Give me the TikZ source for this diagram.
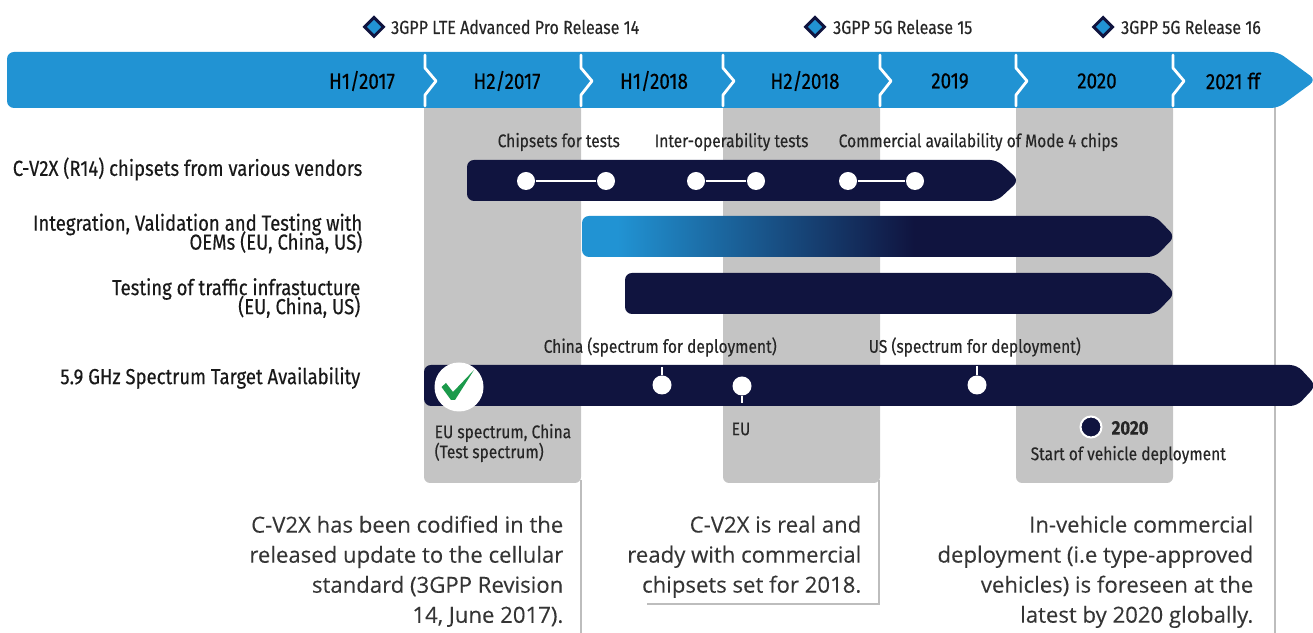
\documentclass[tikz,border=0pt]{standalone}
\usepackage{fontspec}
\usepackage{tkz-euclide}
\usetikzlibrary{positioning,shapes.geometric}
\newfontfamily\labelfont[FakeStretch=0.85,FakeBold=0.35]{Fira Sans}
\newfontfamily\notefont[FakeBold=0.15]{Open Sans}
\newcommand{\tightrows}{\lineskiplimit=-3pt\relax}
\definecolor{barblue}{HTML}{2193D3}
\definecolor{barnavy}{HTML}{10143F}
\definecolor{bandgrey}{HTML}{C4C4C4}
\definecolor{linegrey}{HTML}{BDBDBD}
\definecolor{notegrey}{HTML}{353535}
\definecolor{tickgreen}{HTML}{1B9A4B}
\pgfdeclarehorizontalshading{fadebar}{100bp}{color(0bp)=(barblue);color(28bp)=(barblue);color(53bp)=(barnavy);color(100bp)=(barnavy)}
\tikzset{
    band/.style={fill=bandgrey,rounded corners=0.06cm},
    rule/.style={draw=linegrey,line width=0.02cm},
    navybar/.style={fill=barnavy,rounded corners=0.07cm},
    chevron/.style={draw=white,line width=0.028cm,line cap=round,line join=round},
    spot/.style={circle,fill=white,inner sep=0pt,minimum size=0.18cm},
    link/.style={draw=white,line width=0.014cm},
    period/.style={font=\labelfont\fontsize{6.3}{7}\selectfont,text=black,inner sep=0pt},
    toptext/.style={font=\labelfont\fontsize{5.38}{6}\selectfont,text=black!85,inner sep=0pt,anchor=west},
    rowtext/.style={font=\labelfont\fontsize{6.2}{5.4}\selectfont\tightrows,text=black!90,inner sep=0pt,align=right,anchor=east},
    smalltext/.style={font=\labelfont\fontsize{5.2}{5.7}\selectfont,text=black!85,inner sep=0pt,anchor=west,align=left},
    notetext/.style={font=\notefont\fontsize{6.3}{8.55}\selectfont,text=notegrey,inner sep=0pt,align=right,anchor=north east},
    release/.style={diamond,draw=barnavy,fill=barblue,line width=0.03cm,inner sep=0pt,minimum size=0.2cm}
}
\begin{document}
\begin{tikzpicture}
                \useasboundingbox (0,0) rectangle (13.13,-6.33);
                \tkzDefPoints{5.26/-1.81/a,6.06/-1.81/b,6.96/-1.81/c,7.56/-1.81/d,8.48/-1.81/e,9.15/-1.81/f}
                \tkzDefPoints{6.62/-3.85/g,7.42/-3.86/h,9.77/-3.85/i,6.62/-3.67/j,7.42/-4.03/k,9.77/-3.66/l}
                \tkzDefPoints{3.74/-0.27/m,8.15/-0.27/n,11.03/-0.27/o}
                \fill[band] (4.24,-0.9) rectangle (5.81,-4.83);
                \fill[band] (7.23,-0.9) rectangle (8.80,-4.83);
                \fill[band] (10.16,-0.9) rectangle (11.73,-4.83);
                \draw[rule] (5.805,-4.80) -- (5.805,-6.33);
                \draw[rule] (6.47,-6.04) -- (8.785,-6.04) -- (8.785,-4.80);
                \draw[rule] (12.745,-1.0) -- (12.745,-6.33);
                \fill[fill=barblue,rounded corners=0.07cm] (0.07,-0.52) -- (12.78,-0.52) -- (13.16,-0.80) -- (12.78,-1.08) -- (0.07,-1.08) -- cycle;
                \foreach \x in {4.25,5.81,7.23,8.80,10.16,11.73}
                    \draw[chevron] (\x,-0.55) -- (\x,-0.68) -- (\x+0.11,-0.81) -- (\x,-0.95) -- (\x,-1.06);
                \node[period] (pa) at (3.62,-0.81) {H1/2017};
                \node[period] (pb) at (5.07,-0.81) {H2/2017};
                \node[period] (pc) at (6.54,-0.81) {H1/2018};
                \node[period] (pd) at (8.05,-0.81) {H2/2018};
                \node[period] (pe) at (9.50,-0.81) {2019};
                \node[period] (pf) at (10.97,-0.81) {2020};
                \node[period] (pg) at (12.33,-0.81) {2021 ff};
                \node[release] (ra) at (m) {};
                \node[release] (rb) at (n) {};
                \node[release] (rc) at (o) {};
                \node[toptext,right=0.05cm of ra] (ta) {3GPP LTE Advanced Pro Release 14};
                \node[toptext,right=0.06cm of rb] (tb) {3GPP 5G Release 15};
                \node[toptext,right=0.06cm of rc] (tc) {3GPP 5G Release 16};
                \fill[navybar] (4.67,-1.60) -- (9.97,-1.60) -- (10.19,-1.805) -- (9.97,-2.01) -- (4.67,-2.01) -- cycle;
                \shade[shading=fadebar,rounded corners=0.07cm] (5.82,-2.16) -- (11.55,-2.16) -- (11.75,-2.365) -- (11.55,-2.57) -- (5.82,-2.57) -- cycle;
                \fill[navybar] (6.25,-2.73) -- (11.55,-2.73) -- (11.75,-2.935) -- (11.55,-3.14) -- (6.25,-3.14) -- cycle;
                \fill[navybar] (4.24,-3.65) -- (12.97,-3.65) -- (13.16,-3.855) -- (12.97,-4.06) -- (4.24,-4.06) -- cycle;
                \node[spot] (da) at (a) {};
                \node[spot] (db) at (b) {};
                \node[spot] (dc) at (c) {};
                \node[spot] (dd) at (d) {};
                \node[spot] (de) at (e) {};
                \node[spot] (df) at (f) {};
                \draw[link] (da) -- (db);
                \draw[link] (dc) -- (dd);
                \draw[link] (de) -- (df);
                \node[spot,minimum size=0.19cm] (dg) at (g) {};
                \node[spot,minimum size=0.19cm] (dh) at (h) {};
                \node[spot,minimum size=0.19cm] (di) at (i) {};
                \draw[link] (dg) -- (j);
                \draw[link] (dh) -- (k);
                \draw[link] (di) -- (l);
                \node[circle,fill=white,inner sep=0pt,minimum size=0.49cm] (ok) at (4.59,-3.87) {};
                \fill[tickgreen] (4.415,-3.87) -- (4.46,-3.83) -- (4.53,-3.92) -- (4.74,-3.70) -- (4.55,-4.00) -- (4.51,-4.00) -- cycle;
                \node[circle,fill=barnavy,draw=white,line width=0.02cm,inner sep=0pt,minimum size=0.21cm] (year) at (10.91,-4.27) {};
                \node[smalltext,font=\labelfont\bfseries\fontsize{5.6}{5.7}\selectfont] (yt) at (11.11,-4.28) {2020};
                \node[smalltext] (sv) at (10.30,-4.55) {Start of vehicle deployment};
                \node[rowtext] (la) at (3.63,-1.69) {C-V2X (R14) chipsets from various vendors};
                \node[rowtext] (lb) at (3.63,-2.335) {Integration, Validation and Testing with\\OEMs (EU, China, US)};
                \node[rowtext] (lc) at (3.61,-2.98) {Testing of traffic infrastucture\\(EU, China, US)};
                \node[rowtext] (ld) at (3.61,-3.78) {5.9 GHz Spectrum Target Availability};
                \node[smalltext] (sa) at (4.97,-1.42) {Chipsets for tests};
                \node[smalltext] (sb) at (6.54,-1.42) {Inter-operability tests};
                \node[smalltext] (sc) at (8.38,-1.42) {Commercial availability of Mode 4 chips};
                \node[smalltext] (sd) at (5.43,-3.47) {China (spectrum for deployment)};
                \node[smalltext] (se) at (8.68,-3.47) {US (spectrum for deployment)};
                \node[smalltext] (sf) at (4.34,-4.43) {EU spectrum, China\\(Test spectrum)};
                \node[smalltext] (sg) at (7.31,-4.29) {EU};
                \node[notetext] (na) at (5.64,-5.15) {C-V2X has been codified in the\\released update to the cellular\\standard (3GPP Revision\\14, June 2017).};
                \node[notetext] (nb) at (8.62,-5.15) {C-V2X is real and\\ready with commercial\\chipsets set for 2018.};
                \node[notetext] (nc) at (12.54,-5.15) {In-vehicle commercial\\deployment (i.e type-approved\\vehicles) is foreseen at the\\latest by 2020 globally.};
            \end{tikzpicture}
\end{document}
